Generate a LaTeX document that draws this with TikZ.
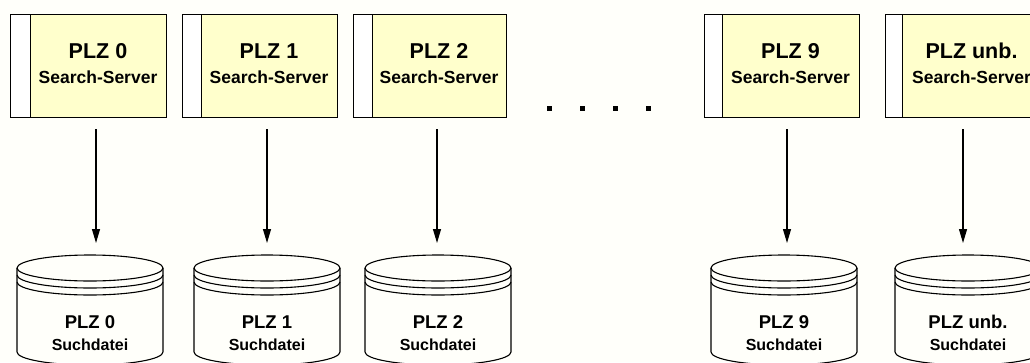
\documentclass[tikz,border=0pt]{standalone}
\usepackage{fontspec}
\setmainfont{Liberation Sans}
\usetikzlibrary{arrows.meta}
\definecolor{bg}{HTML}{FFFFFA}
\definecolor{boxy}{HTML}{FFFFCC}
\begin{document}
\begin{tikzpicture}[x=1pt,y=-1pt,
  serverbox/.style={draw=black, line width=1.3pt, fill=boxy, minimum height=103pt, inner sep=0pt, anchor=north west},
  stripbox/.style={draw=black, line width=1.3pt, fill=white, minimum height=103pt, inner sep=0pt, anchor=north west},
  plzlab/.style={font=\fontsize{21.5}{21.5}\selectfont\bfseries, inner sep=0pt},
  srvlab/.style={font=\fontsize{17.5}{17.5}\selectfont\bfseries, inner sep=0pt},
  cplz/.style={font=\fontsize{18.5}{18.5}\selectfont\bfseries, inner sep=0pt},
  csuch/.style={font=\fontsize{16}{16}\selectfont\bfseries, inner sep=0pt},
  cyl/.style={draw=black, line width=1.1pt},
  arr/.style={draw=black, line width=1.1pt, -{Triangle[width=8pt,length=14pt]}},
  dotsq/.style={fill=black}]
\useasboundingbox (0,0) rectangle (1030,362);
\clip (0,0) rectangle (1030,362);
\fill[bg] (0,0) rectangle (1030,362);
\foreach \n/\L/\D/\R/\ax/\cx/\lab in {0/10/30/166/96/90/0, 1/182/201/337/267/267/1, 2/353/372/506/437/438/2, 9/704/722/859/787/784/9, u/885/902/1041/963/968/unb.}{
  \pgfmathsetmacro\sw{\D-\L}
  \pgfmathsetmacro\yw{\R-\D}
  \pgfmathsetmacro\yc{(\D+\R)/2}
  \node[stripbox, minimum width=\sw pt] (s\n) at (\L,14) {};
  \node[serverbox, minimum width=\yw pt] (y\n) at (\D,14) {};
  \node[plzlab] (p\n) at (\yc,51) {PLZ \lab};
  \node[srvlab] (r\n) at (\yc,77) {Search-Server};
  % cylinder
  \draw[cyl] (\cx,268) ellipse [x radius=73pt, y radius=13pt];
  \draw[cyl] ({\cx-73},275) arc[start angle=180, end angle=360, x radius=73pt, y radius=13pt];
  \draw[cyl] ({\cx-73},282) arc[start angle=180, end angle=360, x radius=73pt, y radius=13pt];
  \draw[cyl] ({\cx-73},268) -- ({\cx-73},352) arc[start angle=180, end angle=360, x radius=73pt, y radius=13pt] -- ({\cx+73},268);
  \node[cplz] (c\n) at (\cx,322) {PLZ \lab};
  \node[csuch] (d\n) at (\cx,345) {Suchdatei};
  \coordinate (a\n) at (\ax,129);
  \coordinate (t\n) at (\ax,243);
  \draw[arr] (a\n) -- (t\n);
}
\foreach \x in {549,582,615,648}{
  \fill[dotsq] ({\x-2.5},105.5) rectangle ({\x+2.5},110.5);
}
\end{tikzpicture}
\end{document}
